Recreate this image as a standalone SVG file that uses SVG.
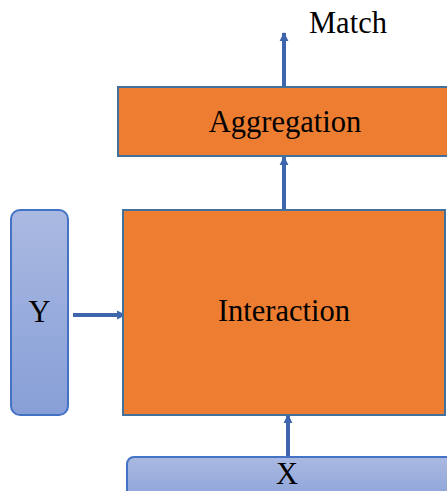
<svg xmlns="http://www.w3.org/2000/svg" width="447" height="491" viewBox="0 0 447 491">
<style>
.t{font-family:"Liberation Serif","Times New Roman",serif;font-size:30.5px;fill:#000;}
.org{fill:#ED7D31;stroke:#41719C;stroke-width:2;}
.blu{fill:url(#bg);stroke:#4472C4;stroke-width:2;}
.arr{stroke:#3F65AD;stroke-width:4;fill:none;marker-end:url(#ah);}
</style>
<defs>
<linearGradient id="bg" x1="0" y1="0" x2="0" y2="1">
<stop offset="0" stop-color="#AAB9E1"/>
<stop offset="1" stop-color="#879FD7"/>
</linearGradient>
<marker id="ah" viewBox="0 0 10 10" refX="9" refY="5" markerWidth="2.2" markerHeight="2.4" orient="auto" markerUnits="strokeWidth">
<path d="M0,0 L10,5 L0,10 z" fill="#3F65AD"/>
</marker>
</defs>
<g id="connectors">
<line class="arr" x1="284" y1="86" x2="284" y2="33"/>
<line class="arr" x1="284" y1="209" x2="284" y2="157"/>
<line class="arr" x1="73" y1="315" x2="125" y2="315"/>
<line class="arr" x1="288" y1="457" x2="288" y2="415"/>
</g>
<g id="aggregation">
<rect class="org" x="118" y="87" width="335" height="69"/>
<text class="t" x="285" y="132" text-anchor="middle">Aggregation</text>
</g>
<g id="interaction">
<rect class="org" x="123" y="210" width="322" height="205"/>
<text class="t" x="284" y="321" text-anchor="middle">Interaction</text>
</g>
<g id="y">
<rect class="blu" x="11" y="210" width="57" height="205" rx="9"/>
<text class="t" x="39.5" y="322" text-anchor="middle">Y</text>
</g>
<g id="x">
<rect class="blu" x="127" y="457" width="330" height="50" rx="7"/>
<text class="t" x="287" y="484" text-anchor="middle">X</text>
</g>
<g id="match">
<text class="t" x="309" y="33">Match</text>
</g>
</svg>
